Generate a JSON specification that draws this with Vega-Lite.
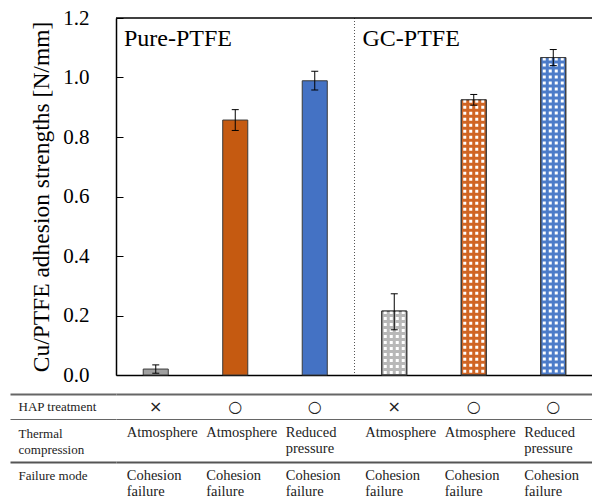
{
  "$schema": "https://vega.github.io/schema/vega-lite/v6.json",
  "padding": {"left": 9, "top": 7, "right": 0, "bottom": 0},
  "autosize": {"type": "pad"},
  "background": "white",
  "spacing": 0,
  "bounds": "flush",
  "resolve": {"scale": {"x": "independent", "y": "independent", "color": "independent"}},
  "config": {"view": {"stroke": null}, "font": "Liberation Serif"},
  "datasets": {
    "bars": [
      {"cond": "P1", "group": "Pure-PTFE", "value": 0.020, "lo": 0.006, "hi": 0.034, "hap": "×", "thermal": "Atmosphere", "failure": "Cohesion\nfailure"},
      {"cond": "P2", "group": "Pure-PTFE", "value": 0.857, "lo": 0.822, "hi": 0.892, "hap": "○", "thermal": "Atmosphere", "failure": "Cohesion\nfailure"},
      {"cond": "P3", "group": "Pure-PTFE", "value": 0.989, "lo": 0.958, "hi": 1.021, "hap": "○", "thermal": "Reduced\npressure", "failure": "Cohesion\nfailure"},
      {"cond": "G1", "group": "GC-PTFE", "value": 0.215, "lo": 0.152, "hi": 0.273, "hap": "×", "thermal": "Atmosphere", "failure": "Cohesion\nfailure"},
      {"cond": "G2", "group": "GC-PTFE", "value": 0.925, "lo": 0.907, "hi": 0.943, "hap": "○", "thermal": "Atmosphere", "failure": "Cohesion\nfailure"},
      {"cond": "G3", "group": "GC-PTFE", "value": 1.067, "lo": 1.040, "hi": 1.094, "hap": "○", "thermal": "Reduced\npressure", "failure": "Cohesion\nfailure"}
    ]
  },
  "vconcat": [
    {
      "width": 477,
      "height": 357,
      "data": {"name": "bars"},
      "layer": [
        {
          "data": {"values": [{}]},
          "mark": {"type": "rule", "strokeDash": [1, 2], "color": "#555555", "strokeWidth": 1},
          "encoding": {
            "x": {"datum": "G1", "type": "nominal", "bandPosition": 0, "scale": {"domain": ["P1", "P2", "P3", "G1", "G2", "G3"], "paddingInner": 0, "paddingOuter": 0}, "axis": {"labels": false, "ticks": false, "title": null, "domainColor": "#000000", "domainWidth": 1.5}}
          }
        },
        {
          "mark": {"type": "bar", "width": {"band": 0.315}, "stroke": "#3a3a3a", "strokeWidth": 1},
          "encoding": {
            "x": {"field": "cond", "type": "nominal", "axis": {"labels": false, "ticks": false, "title": null, "domainColor": "#000000", "domainWidth": 1.5}},
            "y": {"field": "value", "type": "quantitative", "scale": {"domain": [0, 1.2], "nice": false},
              "axis": {"values": [0, 0.2, 0.4, 0.6, 0.8, 1.0, 1.2], "format": ".1f", "labelFont": "Liberation Serif", "labelFontSize": 21, "labelColor": "#000000", "tickSize": -7, "tickColor": "#000000", "tickWidth": 1, "labelPadding": 34, "domainColor": "#000000", "domainWidth": 1.5, "grid": false, "title": "Cu/PTFE adhesion strengths [N/mm]", "titleFont": "Liberation Serif", "titleFontSize": 23.5, "titleFontWeight": "normal", "titleColor": "#000000", "titlePadding": 9}},
            "color": {"field": "cond", "type": "nominal", "scale": {"domain": ["P1", "P2", "P3", "G1", "G2", "G3"], "range": ["#A0A0A0", "#C55A11", "#4472C4", "#B8B8B8", "#D06524", "#4D7CC9"]}, "legend": null}
          }
        },
        {
          "transform": [{"filter": "datum.group === 'GC-PTFE'"}],
          "mark": {"type": "rule", "xOffset": -9, "color": "white", "strokeWidth": 3, "strokeDash": [3, 3]},
          "encoding": {"x": {"field": "cond", "type": "nominal", "axis": {"labels": false, "ticks": false, "title": null}}, "y": {"field": "value", "type": "quantitative"}, "y2": {"datum": 0}}
        },
        {
          "transform": [{"filter": "datum.group === 'GC-PTFE'"}],
          "mark": {"type": "rule", "xOffset": -3, "color": "white", "strokeWidth": 3, "strokeDash": [3, 3]},
          "encoding": {"x": {"field": "cond", "type": "nominal", "axis": {"labels": false, "ticks": false, "title": null}}, "y": {"field": "value", "type": "quantitative"}, "y2": {"datum": 0}}
        },
        {
          "transform": [{"filter": "datum.group === 'GC-PTFE'"}],
          "mark": {"type": "rule", "xOffset": 3, "color": "white", "strokeWidth": 3, "strokeDash": [3, 3]},
          "encoding": {"x": {"field": "cond", "type": "nominal", "axis": {"labels": false, "ticks": false, "title": null}}, "y": {"field": "value", "type": "quantitative"}, "y2": {"datum": 0}}
        },
        {
          "transform": [{"filter": "datum.group === 'GC-PTFE'"}],
          "mark": {"type": "rule", "xOffset": 9, "color": "white", "strokeWidth": 3, "strokeDash": [3, 3]},
          "encoding": {"x": {"field": "cond", "type": "nominal", "axis": {"labels": false, "ticks": false, "title": null}}, "y": {"field": "value", "type": "quantitative"}, "y2": {"datum": 0}}
        },
        {
          "transform": [{"filter": "datum.group === 'GC-PTFE'"}],
          "mark": {"type": "bar", "width": {"band": 0.315}, "fillOpacity": 0, "stroke": "#3a3a3a", "strokeWidth": 1},
          "encoding": {"x": {"field": "cond", "type": "nominal", "axis": {"labels": false, "ticks": false, "title": null}}, "y": {"field": "value", "type": "quantitative"}}
        },
        {
          "mark": {"type": "rule", "color": "#000000", "strokeWidth": 1},
          "encoding": {"x": {"field": "cond", "type": "nominal", "axis": {"labels": false, "ticks": false, "title": null}}, "y": {"field": "lo", "type": "quantitative"}, "y2": {"field": "hi"}}
        },
        {
          "mark": {"type": "tick", "orient": "horizontal", "size": 7, "thickness": 1, "color": "#000000", "opacity": 1},
          "encoding": {"x": {"field": "cond", "type": "nominal", "axis": {"labels": false, "ticks": false, "title": null}}, "y": {"field": "lo", "type": "quantitative"}}
        },
        {
          "mark": {"type": "tick", "orient": "horizontal", "size": 7, "thickness": 1, "color": "#000000", "opacity": 1},
          "encoding": {"x": {"field": "cond", "type": "nominal", "axis": {"labels": false, "ticks": false, "title": null}}, "y": {"field": "hi", "type": "quantitative"}}
        },
        {
          "data": {"values": [{"cond": "P1", "label": "Pure-PTFE"}, {"cond": "G1", "label": "GC-PTFE"}]},
          "mark": {"type": "text", "align": "left", "baseline": "alphabetic", "dx": 8, "dy": 28, "fontSize": 24, "font": "Liberation Serif", "color": "#000000"},
          "encoding": {"x": {"field": "cond", "type": "nominal", "bandPosition": 0, "axis": {"labels": false, "ticks": false, "title": null}}, "y": {"datum": 1.2, "type": "quantitative"}, "text": {"field": "label"}}
        },
        {
          "data": {"values": [{}]},
          "mark": {"type": "rule", "color": "#000000", "strokeWidth": 1.5},
          "encoding": {"y": {"datum": 1.2, "type": "quantitative"}}
        }
      ]
    },
    {
      "width": 477,
      "height": 44,
      "data": {"name": "bars"},
      "mark": {"type": "text", "font": "DejaVu Sans", "fontSize": 16, "color": "#222222", "baseline": "middle", "align": "center", "dy": 9.5},
      "encoding": {
        "x": {"field": "cond", "type": "nominal", "scale": {"domain": ["P1", "P2", "P3", "G1", "G2", "G3"], "paddingInner": 0, "paddingOuter": 0}, "axis": null},
        "y": {"datum": "HAP treatment", "type": "nominal", "scale": {"paddingInner": 0, "paddingOuter": 0},
          "axis": {"title": null, "domain": false, "ticks": true, "tickSize": 106, "tickColor": "#666666", "tickWidth": 2, "grid": true, "gridColor": "#666666", "gridWidth": 2, "tickOffset": -3, "labelAlign": "left", "labelBaseline": "middle", "labelOffset": 12.5, "labelPadding": -8, "labelFont": "Liberation Serif", "labelFontSize": 13, "labelColor": "#222222"}},
        "text": {"field": "hap"}
      }
    },
    {
      "width": 477,
      "height": 43,
      "data": {"name": "bars"},
      "mark": {"type": "text", "font": "Liberation Serif", "fontSize": 14.5, "color": "#222222", "baseline": "top", "align": "left", "dx": -29, "dy": -14.5, "lineBreak": "\n", "lineHeight": 16},
      "encoding": {
        "x": {"field": "cond", "type": "nominal", "scale": {"domain": ["P1", "P2", "P3", "G1", "G2", "G3"], "paddingInner": 0, "paddingOuter": 0}, "axis": null},
        "y": {"datum": "Thermal compression", "type": "nominal", "scale": {"paddingInner": 0, "paddingOuter": 0},
          "axis": {"title": null, "domain": false, "ticks": true, "tickSize": 106, "tickColor": "#666666", "tickWidth": 1, "grid": true, "gridColor": "#666666", "gridWidth": 1, "tickOffset": -21.5, "labelAlign": "left", "labelBaseline": "top", "labelOffset": 8, "labelPadding": -8, "labelLineHeight": 16, "labelExpr": "split(datum.label, ' ')", "labelFont": "Liberation Serif", "labelFontSize": 13, "labelColor": "#222222"}},
        "text": {"field": "thermal"}
      }
    },
    {
      "width": 477,
      "height": 40,
      "data": {"name": "bars"},
      "mark": {"type": "text", "font": "Liberation Serif", "fontSize": 14.5, "color": "#222222", "baseline": "top", "align": "left", "dx": -29, "dy": -13, "lineBreak": "\n", "lineHeight": 16},
      "encoding": {
        "x": {"field": "cond", "type": "nominal", "scale": {"domain": ["P1", "P2", "P3", "G1", "G2", "G3"], "paddingInner": 0, "paddingOuter": 0}, "axis": null},
        "y": {"datum": "Failure mode", "type": "nominal", "scale": {"paddingInner": 0, "paddingOuter": 0},
          "axis": {"title": null, "domain": false, "ticks": true, "tickSize": 106, "tickColor": "#555555", "tickWidth": 2, "grid": true, "gridColor": "#555555", "gridWidth": 2, "tickOffset": -20, "labelAlign": "left", "labelBaseline": "top", "labelOffset": 7, "labelPadding": -8, "labelFont": "Liberation Serif", "labelFontSize": 13, "labelColor": "#222222"}},
        "text": {"field": "failure"}
      }
    }
  ]
}
